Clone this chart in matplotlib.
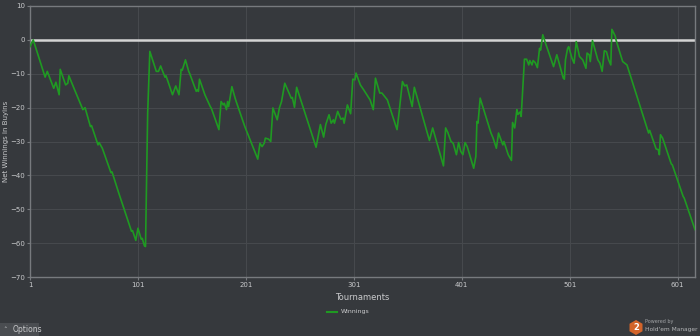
import matplotlib
matplotlib.use("Agg")
import matplotlib.pyplot as plt
from matplotlib.patches import RegularPolygon, Rectangle
from matplotlib.lines import Line2D
from matplotlib.transforms import IdentityTransform

# cumulative results, read at the turning points of the graph
tournament = [1, 4, 15, 17, 23, 25, 28, 29, 34, 36, 37, 42, 50, 52, 57, 58, 64, 65, 68, 76,
              77, 83, 95, 96, 99, 101, 104, 105, 107, 108, 110, 112, 118, 120, 122, 126, 127,
              133, 136, 139, 141, 142, 145, 148, 149, 155, 156, 157, 158, 163, 168, 169, 176,
              178, 180, 181, 183, 184, 185, 188, 191, 192, 200, 212, 214, 216, 218, 219, 222,
              224, 226, 230, 232, 234, 237, 243, 244, 246, 248, 266, 270, 273, 275, 278, 280,
              282, 283, 286, 289, 291, 292, 295, 298, 300, 302, 303, 307, 310, 316, 319, 321,
              325, 327, 332, 341, 343, 346, 348, 350, 355, 357, 371, 374, 384, 386, 388, 391,
              393, 396, 398, 400, 402, 404, 406, 412, 414, 415, 416, 418, 428, 430, 433, 435,
              439, 440, 444, 447, 448, 450, 452, 453, 455, 456, 459, 461, 463, 464, 466, 467,
              469, 471, 473, 474, 476, 478, 486, 489, 495, 496, 497, 499, 500, 503, 505, 507,
              510, 513, 516, 517, 519, 520, 522, 527, 529, 531, 533, 535, 537, 539, 540, 543,
              544, 550, 552, 554, 574, 575, 581, 583, 584, 585, 587, 595, 596, 606, 607, 617]
winnings = [-2, 0, -11, -9.3, -14.3, -12.5, -16.2, -8.7, -13.3, -12.8, -10.6, -14.5, -20.6, -20,
            -25.6, -25.3, -31, -30.3, -32, -39.2, -39, -45, -56.5, -56.3, -59.2, -55.6, -58.8,
            -58.6, -60.8, -61, -21.6, -3.4, -9.3, -9.3, -7.7, -11, -10.6, -16.2, -13.6, -16.2,
            -8.7, -9, -5.9, -9.3, -10, -15.2, -14.7, -15.2, -11.6, -16.2, -19.7, -20.2, -26.5,
            -18.2, -19.2, -18.7, -20.6, -18.2, -19.7, -13.8, -17.2, -18.2, -25.6, -35.2, -30.5,
            -31.5, -30.5, -29, -29.3, -30, -20.1, -23.6, -20.1, -18.2, -12.8, -17.2, -17, -19.9,
            -14, -31.7, -25, -28.7, -25, -22.1, -24.6, -23.6, -24.6, -21.1, -23.4, -23.1, -24.6,
            -19.2, -21.8, -11.6, -11.8, -9.8, -13.3, -14.7, -17.7, -20.6, -11.3, -15.7, -15.7,
            -17.7, -26.5, -21.1, -12.3, -13.6, -13.3, -19.7, -14, -29.7, -26, -37.2, -26, -27.3,
            -30, -30.5, -33.9, -30.3, -32.9, -33.9, -30.3, -31.5, -37.9, -34.4, -24.1, -24.6,
            -17.2, -27.5, -29, -32, -27.5, -31, -30, -33.9, -35.6, -24.4, -26, -20.6, -22, -21.3,
            -22.6, -5.7, -5.7, -7.4, -6.1, -7.4, -6.1, -6.7, -8.2, -2.5, -3, 1.5, -0.5, -7.9,
            -4.4, -11.3, -11.6, -5.9, -2.5, -2, -5.4, -6.9, -0.5, -4.9, -5.9, -8.4, -3.9, -4.4,
            -6.4, -0.2, -5.9, -6.9, -9.3, -3.2, -3.5, -5.9, -7.4, 3.1, 1.2, -0.2, -6.4, -6.9,
            -7.4, -27.5, -26.7, -32.2, -32.4, -33.9, -28, -29, -36.6, -36.9, -46.2, -46.7, -56]

x_ticks = [1, 101, 201, 301, 401, 501, 601]
y_ticks = [10, 0, -10, -20, -30, -40, -50, -60, -70]

bg = '#36393d'
txt = '#c9cacc'
green = '#1f9a22'

fig = plt.figure(figsize=(7, 3.36), dpi=100, facecolor=bg)
ax = fig.add_axes([30 / 700, 1 - 277 / 336, 665 / 700, 271 / 336])
ax.set_facecolor(bg)

ax.plot(tournament, winnings, color=green, lw=1.2, zorder=3)
ax.axhline(0, color='#d4d4d4', lw=1.8, zorder=2)

ax.set_xlim(1, 617)
ax.set_ylim(-70, 10)
ax.set_xticks(x_ticks)
ax.set_yticks(y_ticks)
ax.grid(True, color='#46494d', lw=0.8, zorder=0)
for s in ax.spines.values():
    s.set_color('#777a7e')
    s.set_linewidth(1)
ax.tick_params(colors='#777a7e', labelcolor=txt, labelsize=5, length=2, pad=1.5)

ax.set_xlabel('Tournaments', color=txt, fontsize=6, labelpad=4)
fig.text(6 / 700, 1 - 141 / 336, 'Net Winnings in Buyins', color=txt, fontsize=5,
         rotation=90, ha='center', va='center')

# legend entry under the axis label
fig.add_artist(Line2D([327 / 700, 337 / 700], [1 - 312 / 336] * 2, color=green, lw=1.5))
fig.text(341 / 700, 1 - 312 / 336, 'Winnings', color=txt, fontsize=4.5, va='center')

# options button, bottom left
fig.add_artist(Rectangle((0, 0), 39 / 700, 13 / 336, transform=fig.transFigure,
                         facecolor='#4a4d51', edgecolor='none'))
fig.text(3 / 700, 6 / 336, '\u02c4', color=txt, fontsize=5, va='center')
fig.text(13 / 700, 6 / 336, 'Options', color=txt, fontsize=5.5, va='center')

# footer logo (hexagon sized in pixels so it stays regular)
fig.add_artist(RegularPolygon((636, 8.5), numVertices=6, radius=7.5, orientation=0,
                              transform=IdentityTransform(),
                              facecolor='#d2642a', edgecolor='none'))
fig.text(636 / 700, 8.5 / 336, '2', color='white', fontsize=6, fontweight='bold',
         ha='center', va='center')
fig.text(645 / 700, 14 / 336, 'Powered by', color='#a0a2a5', fontsize=3.5, va='center')
fig.text(645 / 700, 6 / 336, "Hold'em Manager", color='#b4b6b8', fontsize=4.2, va='center')

fig.savefig('out.png', dpi=100, facecolor=bg)
